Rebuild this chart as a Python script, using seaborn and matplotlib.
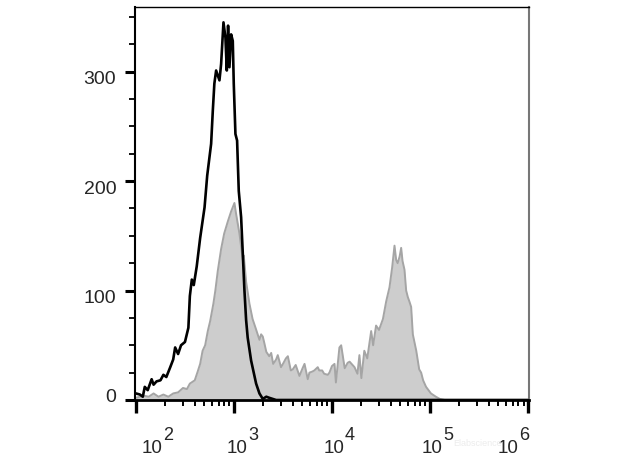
import numpy as np
import pandas as pd
import matplotlib
matplotlib.use('Agg')
import matplotlib.pyplot as plt
import matplotlib.transforms as mtransforms
import seaborn as sns

# channel positions (log10 of fluorescence) and event counts
control_log = [2.00, 2.04, 2.07, 2.09, 2.12, 2.16, 2.18, 2.21, 2.25, 2.28, 2.31, 2.35, 2.38, 2.40,
               2.43, 2.46, 2.50, 2.535, 2.55, 2.57, 2.59, 2.62, 2.655, 2.70, 2.727, 2.767, 2.784,
               2.80, 2.818, 2.852, 2.869, 2.893, 2.913, 2.927, 2.94, 2.954, 2.971, 2.988, 2.998,
               3.015, 3.032, 3.049, 3.073, 3.09, 3.107, 3.124, 3.14, 3.175, 3.226, 3.26, 3.294,
               3.33, 3.36, 3.43, 6.00]
control_count = [6, 5, 3, 12, 9, 19, 14, 17, 18, 23, 21, 30, 37, 48,
                 42, 50, 53, 66, 95, 110, 105, 122, 148, 176, 205, 234, 264,
                 289, 301, 292, 307, 345, 331, 301, 342, 304, 334, 328, 289,
                 243, 237, 191, 167, 134, 100, 73, 57, 36, 15, 6, 1,
                 3, 2, 0, 0]

stained_log = [2.00, 2.08, 2.13, 2.18, 2.23, 2.28, 2.33, 2.38, 2.43, 2.48, 2.52, 2.55, 2.60, 2.63,
               2.655, 2.68, 2.706, 2.733, 2.757, 2.79, 2.81, 2.835, 2.869, 2.90, 2.937, 2.97, 3.005,
               3.02, 3.056, 3.09, 3.10, 3.124, 3.158, 3.19, 3.22, 3.26, 3.277, 3.294, 3.31, 3.33,
               3.36, 3.38, 3.40, 3.43, 3.447, 3.48, 3.50, 3.53, 3.55, 3.58, 3.60, 3.63, 3.668,
               3.70, 3.72, 3.753, 3.77, 3.80, 3.82, 3.855, 3.87, 3.90, 3.92, 3.957, 3.974, 4.00,
               4.026, 4.04, 4.076, 4.094, 4.13, 4.16, 4.18, 4.21, 4.23, 4.26, 4.28, 4.30, 4.33,
               4.36, 4.40, 4.42, 4.45, 4.48, 4.52, 4.553, 4.587, 4.614, 4.638, 4.655, 4.67, 4.69,
               4.706, 4.72, 4.74, 4.757, 4.774, 4.79, 4.808, 4.825, 4.86, 4.89, 4.91, 4.93, 4.96,
               5.01, 5.06, 5.10, 5.15, 6.00]
stained_count = [2, 4, 3, 6, 3, 5, 3, 6, 7, 11, 10, 15, 18, 26,
                 33, 45, 50, 63, 72, 88, 100, 118, 138, 152, 163, 172, 180,
                 171, 152, 128, 132, 108, 88, 74, 66, 55, 60, 58, 52, 44,
                 40, 43, 33, 37, 41, 30, 33, 38, 40, 27, 28, 32, 22,
                 29, 33, 19, 25, 26, 27, 30, 27, 27, 24, 23, 25, 31,
                 33, 16, 48, 50, 29, 34, 35, 32, 30, 24, 41, 20, 45,
                 38, 63, 50, 68, 64, 74, 90, 103, 121, 141, 128, 125, 131,
                 139, 127, 119, 100, 94, 90, 85, 60, 45, 28, 25, 18, 12,
                 6, 3, 1, 0, 0]

decades = [2, 3, 4, 5, 6]
y_ticks = [0, 100, 200, 300]

control = pd.DataFrame({'fl': np.power(10.0, control_log), 'count': control_count})
stained = pd.DataFrame({'fl': np.power(10.0, stained_log), 'count': stained_count})

sns.set_style('ticks')
plt.rcParams['font.family'] = ['Liberation Sans', 'DejaVu Sans']

fig = plt.figure(figsize=(6.24, 4.68), dpi=100)
ax = fig.add_axes([0.2163, 0.1453, 0.6314, 0.8397])

ax.fill_between(stained['fl'], stained['count'], color='#cdcdcd', lw=0, zorder=1)
sns.lineplot(data=stained, x='fl', y='count', color='#a5a5a5', lw=1.4, estimator=None,
             sort=False, ax=ax, zorder=2)
sns.lineplot(data=control, x='fl', y='count', color='black', lw=1.9, estimator=None,
             sort=False, ax=ax, zorder=3)

ax.set_xscale('log')
ax.set_xlim(10 ** 1.99, 10 ** 6.01)
ax.set_ylim(0, 359)
ax.set_xlabel('')
ax.set_ylabel('')

ax.set_yticks(y_ticks)
ax.set_yticks(np.arange(0, 351, 25), minor=True)
ax.tick_params(axis='y', which='major', length=7.5, width=2.2, pad=6, labelsize=14, color='black')
ax.tick_params(axis='y', which='minor', length=4, width=1.3, color='black')

# y labels sit a little below their ticks in the reference, the zero a bit above
for tick, v in zip(ax.yaxis.get_major_ticks(), y_ticks):
    dy = 4 if v == 0 else -6
    shift = mtransforms.ScaledTranslation(0, dy * 0.72 / 72, fig.dpi_scale_trans)
    tick.label1.set_transform(tick.label1.get_transform() + shift)

ax.set_xticks([10.0 ** d for d in decades])
ax.set_xticks([m * 10.0 ** d for d in decades[:-1] for m in range(2, 10)], minor=True)
ax.set_xticklabels([])
ax.tick_params(axis='x', which='major', length=9, width=2.4, color='black')
ax.tick_params(axis='x', which='minor', length=4, width=1.4, color='black')

# decade labels drawn by hand so the exponent stays near full size
label_shift = [6, -7, -8, -8, -30]
for d, dx in zip(decades, label_shift):
    ax.annotate('10', xy=(10.0 ** d, 0), xycoords=('data', 'axes fraction'),
                xytext=(dx * 0.72, -38), textcoords='offset points',
                ha='left', va='baseline', fontsize=13.5, annotation_clip=False)
    ax.annotate(str(d), xy=(10.0 ** d, 0), xycoords=('data', 'axes fraction'),
                xytext=((dx + 21) * 0.72, -28.5), textcoords='offset points',
                ha='left', va='baseline', fontsize=13, annotation_clip=False)

ax.text(478, 468 - 443, 'Elabscience', transform=None, fontsize=6.5,
        color='#ececec', ha='center', va='center')

for side in ['left', 'bottom', 'top']:
    ax.spines[side].set_color('black')
ax.spines['left'].set_linewidth(1.5)
ax.spines['bottom'].set_linewidth(2)
ax.spines['top'].set_linewidth(1)
ax.spines['right'].set_color('#777777')
ax.spines['right'].set_linewidth(1.5)

plt.savefig('out.png', dpi=100)
